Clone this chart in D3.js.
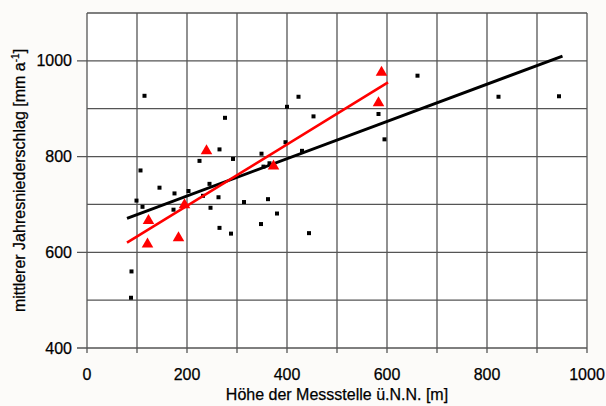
<!DOCTYPE html>
<html><head><meta charset="utf-8">
<script src="https://cdn.jsdelivr.net/npm/d3@7"></script>
<style>
html,body{margin:0;padding:0;background:#fcfbf9;}
text{font-family:"Liberation Sans",Arial,sans-serif;stroke:#000;stroke-width:0.25px;}
</style></head>
<body>
<svg id="c" width="606" height="406"></svg>
<script>
// Data: all stations (elevation m, precipitation mm/a)
const stationsX = [88,89,99,107,111,115,145,173,175,203,225,232,245,247,263,265,265,276,288,292,314,348,349,353,362,365,380,397,400,423,430,444,453,583,595,661,823,944];
const stationsY = [505,560,708,771,695,927,735,689,723,728,791,718,743,693,715,815,651,881,639,795,705,659,806,779,711,786,681,830,904,925,812,640,884,889,836,969,925,926];
// Highlighted stations (red triangles)
const selX = [121,123,183,195,239,373,583,589];
const selY = [617,666,630,699,812,780,912,976];
// Regression lines (end points)
const lineAllX = [80,951];
const lineAllY = [671,1010];
const lineSelX = [80,602];
const lineSelY = [620,955];
// Ticks
const xTicks = [0,200,400,600,800,1000];
const yTicks = [400,600,800,1000];
const xGrid = d3.range(0,1001,100);
const yGrid = d3.range(400,1101,100);

const svg = d3.select("#c");
const x = d3.scaleLinear().domain([0,1000]).range([87,587]);
const y = d3.scaleLinear().domain([400,1100]).range([348,13]);

svg.append("rect").attr("x",x(0)).attr("y",y(1100)).attr("width",x(1000)-x(0)).attr("height",y(400)-y(1100)).attr("fill","#ffffff");

const g = svg.append("g");
// grid
g.selectAll(".vg").data(xGrid).join("line")
  .attr("x1",d=>x(d)).attr("x2",d=>x(d)).attr("y1",y(1100)).attr("y2",y(400)+5)
  .attr("stroke","#555").attr("stroke-width",1.3);
g.selectAll(".hg").data(yGrid).join("line")
  .attr("x1",d=>yTicks.includes(d)?x(0)-10:x(0)).attr("x2",x(1000)).attr("y1",d=>y(d)).attr("y2",d=>y(d))
  .attr("stroke","#555").attr("stroke-width",1.3);

// x tick labels
svg.append("g").selectAll("text").data(xTicks).join("text")
  .attr("x",d=>x(d)).attr("y",380).attr("text-anchor","middle")
  .attr("font-size",16).attr("fill","#000").text(d=>d);
// y tick labels
svg.append("g").selectAll("text").data(yTicks).join("text")
  .attr("x",72).attr("y",d=>y(d)+5.5).attr("text-anchor","end")
  .attr("font-size",16).attr("fill","#000").text(d=>d);

// axis titles
svg.append("text").attr("x",(x(0)+x(1000))/2).attr("y",400).attr("text-anchor","middle")
  .attr("font-size",16).attr("fill","#000").text("Höhe der Messstelle ü.N.N. [m]");
const yt = svg.append("text").attr("transform",`translate(25,${(y(400)+y(1100))/2}) rotate(-90)`)
  .attr("text-anchor","middle").attr("font-size",16).attr("fill","#000");
yt.append("tspan").text("mittlerer Jahresniederschlag [mm a");
yt.append("tspan").attr("dy",-6).attr("font-size",10).text("-1");
yt.append("tspan").attr("dy",6).text("]");

// squares
const pts = stationsX.map((v,i)=>({x:v,y:stationsY[i]}));
svg.append("g").selectAll("rect").data(pts).join("rect")
  .attr("x",d=>x(d.x)-2).attr("y",d=>y(d.y)-2).attr("width",4).attr("height",4).attr("fill","#000");

// lines
const line = d3.line().x(d=>x(d.x)).y(d=>y(d.y));
svg.append("path").datum(lineAllX.map((v,i)=>({x:v,y:lineAllY[i]})))
  .attr("d",line).attr("stroke","#000").attr("stroke-width",3).attr("fill","none");
svg.append("path").datum(lineSelX.map((v,i)=>({x:v,y:lineSelY[i]})))
  .attr("d",line).attr("stroke","#ff0000").attr("stroke-width",2.6).attr("fill","none");

// triangles
const sel = selX.map((v,i)=>({x:v,y:selY[i]}));
const tri = d3.symbol().type(d3.symbolTriangle).size(58);
svg.append("g").selectAll("path").data(sel).join("path")
  .attr("d",tri).attr("transform",d=>`translate(${x(d.x)},${y(d.y)})`).attr("fill","#ff0000");
</script>
</body></html>
